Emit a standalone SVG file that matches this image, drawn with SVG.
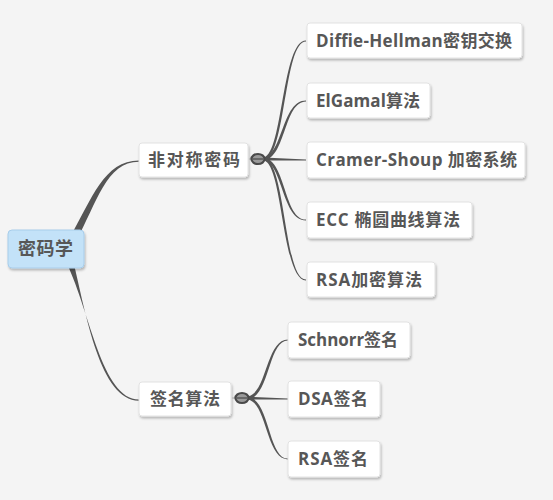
<svg xmlns="http://www.w3.org/2000/svg" width="553" height="500" viewBox="0 0 553 500">
<defs>
<filter id="sh" x="-10%" y="-20%" width="130%" height="160%">
<feDropShadow dx="1" dy="2" stdDeviation="1" flood-color="#000" flood-opacity="0.25"/>
</filter>
<style>
.box{fill:#ffffff;stroke:#e2e2e2;stroke-width:1;filter:url(#sh)}
.root{fill:#c3e2f8;stroke:#a8cdea;stroke-width:1;filter:url(#sh)}
.t{font-family:"Open Sans","Noto Sans CJK SC",sans-serif;font-size:17px;font-weight:bold;fill:#575757}
.c{fill:#555555}
.knob{fill:#9a9a9a;stroke:#4a4a4a;stroke-width:2.2}
</style>
</defs>
<rect width="553" height="500" fill="#f4f4f4"/>
<g id="connectors">
<path class="c" d="M70,237 C92,199 104,160.5 139,160.5 L139,161.7 C106,161.7 97,203 76,241 Z"/>
<path class="c" d="M67,264 C90,312 102,399.5 139,399.5 L139,400.7 C100,400.7 86,314 73,260 Z"/>
<path class="c" d="M248,159 L258,158 L258,160 Z"/>
<path class="c" d="M231,398 L242,397 L242,399 Z"/>
<path class="c" d="M264,157.5 C283,153 282,40.6 306,40.6 L306,41.4 C284,41.4 286,156 264,160.5 Z"/>
<path class="c" d="M264,157.5 C283,154 282,100.6 306,100.6 L306,101.4 C284,101.4 286,157 264,160.5 Z"/>
<path class="c" d="M264,157.6 L306,159.6 L306,160.4 L264,160.4 Z"/>
<path class="c" d="M264,157.5 C286,161 284,219.6 306,219.6 L306,220.4 C282,220.4 283,164 264,160.5 Z"/>
<path class="c" d="M264,157.5 C286,162 284,279.6 306,279.6 L306,280.4 C282,280.4 283,165 264,160.5 Z"/>
<path class="c" d="M248,396.5 C267,393 266,339.6 288,339.6 L288,340.4 C268,340.4 270,396 248,399.5 Z"/>
<path class="c" d="M248,396.6 L288,398.6 L288,399.4 L248,399.4 Z"/>
<path class="c" d="M248,396.5 C270,400 268,458.6 288,458.6 L288,459.4 C266,459.4 267,403 248,399.5 Z"/>
</g>
<g id="root">
<rect class="root" x="8" y="230" width="76" height="38" rx="4"/>
<text class="t" x="18" y="255" textLength="55" lengthAdjust="spacing" style="font-size:18px">密码学</text>
</g>
<g id="n-asym">
<rect class="box" x="139" y="143" width="109" height="34" rx="3"/>
<text class="t" x="148" y="166" textLength="92" lengthAdjust="spacing">非对称密码</text>
<ellipse class="knob" cx="258" cy="159" rx="6.5" ry="5"/>
<line x1="253" y1="159" x2="263" y2="159" stroke="#4a4a4a" stroke-width="1.2"/>
</g>
<g id="n-sig">
<rect class="box" x="139" y="382" width="92" height="34" rx="3"/>
<text class="t" x="150" y="405" textLength="70" lengthAdjust="spacing">签名算法</text>
<ellipse class="knob" cx="242" cy="398" rx="6.5" ry="5"/>
<line x1="237" y1="398" x2="247" y2="398" stroke="#4a4a4a" stroke-width="1.2"/>
</g>
<g id="n-dh">
<rect class="box" x="307" y="23" width="215" height="35" rx="3"/>
<text class="t" x="316" y="46.5" textLength="196" lengthAdjust="spacing">Diffie-Hellman密钥交换</text>
</g>
<g id="n-elgamal">
<rect class="box" x="307" y="83" width="123" height="35" rx="3"/>
<text class="t" x="316" y="106.5" textLength="104" lengthAdjust="spacing">ElGamal算法</text>
</g>
<g id="n-cramer">
<rect class="box" x="307" y="142" width="218" height="36" rx="3"/>
<text class="t" x="316" y="166" textLength="201" lengthAdjust="spacing">Cramer-Shoup 加密系统</text>
</g>
<g id="n-ecc">
<rect class="box" x="307" y="202" width="165" height="36" rx="3"/>
<text class="t" x="316" y="226" textLength="144" lengthAdjust="spacing">ECC 椭圆曲线算法</text>
</g>
<g id="n-rsa-enc">
<rect class="box" x="307" y="262" width="128" height="35" rx="3"/>
<text class="t" x="316" y="285.5" textLength="106" lengthAdjust="spacing">RSA加密算法</text>
</g>
<g id="n-schnorr">
<rect class="box" x="288" y="322" width="122" height="36" rx="3"/>
<text class="t" x="298" y="346" textLength="100" lengthAdjust="spacing">Schnorr签名</text>
</g>
<g id="n-dsa">
<rect class="box" x="288" y="381" width="92" height="36" rx="3"/>
<text class="t" x="298" y="405" textLength="70" lengthAdjust="spacing">DSA签名</text>
</g>
<g id="n-rsa-sig">
<rect class="box" x="288" y="441" width="92" height="36" rx="3"/>
<text class="t" x="298" y="465" textLength="70" lengthAdjust="spacing">RSA签名</text>
</g>
</svg>
